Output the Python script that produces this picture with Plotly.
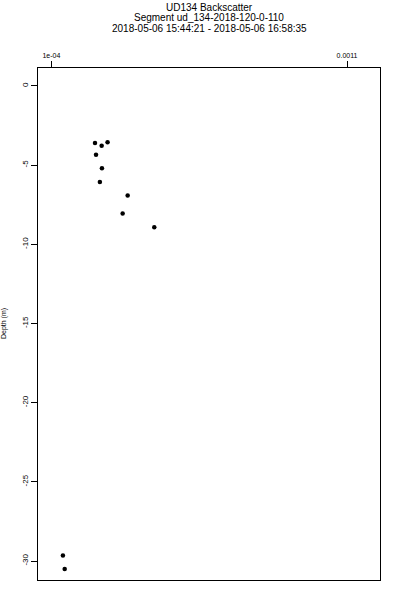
import plotly.graph_objects as go

backscatter = [0.0002475, 0.000270, 0.000290, 0.000251, 0.000271, 0.000264,
               0.000358, 0.000341, 0.000448, 0.000139, 0.000145]
depth = [-3.60, -3.78, -3.55, -4.35, -5.19, -6.06, -6.91, -8.05, -8.93, -29.65, -30.5]

x_tickvals = [0.0001, 0.0011]
x_ticktext = ["1e-04", "0.0011"]
y_tickvals = [0, -5, -10, -15, -20, -25, -30]
y_ticktext = ["0", "-5", "-10", "-15", "-20", "-25", "-30"]

title_lines = ["UD134 Backscatter", "Segment ud_134-2018-120-0-110",
               "2018-05-06 15:44:21 - 2018-05-06 16:58:35"]

FONT = "Liberation Sans, Arial, sans-serif"

fig = go.Figure()
fig.add_trace(go.Scatter(x=backscatter, y=depth, mode="markers",
                         marker=dict(color="black", size=4.5, symbol="circle"),
                         showlegend=False))

fig.update_layout(
    width=400, height=600,
    margin=dict(l=38, r=20, t=68, b=20),
    paper_bgcolor="white", plot_bgcolor="white",
    font=dict(family=FONT, color="black", size=8),
    xaxis=dict(side="top", range=[0.0000547, 0.0012116], tickvals=x_tickvals,
               ticktext=x_ticktext, ticks="outside", ticklen=6, tickcolor="black",
               tickwidth=1, showgrid=False, zeroline=False, showline=True,
               linecolor="black", linewidth=1, mirror=True,
               tickfont=dict(size=7, family=FONT)),
    yaxis=dict(range=[-31.2, 1.135], tickvals=y_tickvals, ticktext=y_ticktext,
               ticks="outside", ticklen=6, tickcolor="black", tickwidth=1,
               tickangle=-90, showgrid=False, zeroline=False, showline=True,
               linecolor="black", linewidth=1, mirror=True,
               tickfont=dict(size=8, family=FONT)),
)

for i, line in enumerate(title_lines):
    fig.add_annotation(text=line, xref="paper", yref="paper", x=0.5,
                       y=1, yshift=68 - 7 - 10.5 * i, showarrow=False,
                       font=dict(size=10, family=FONT), xanchor="center",
                       yanchor="middle")

fig.add_annotation(text="Depth (m)", xref="paper", yref="paper", x=0, xshift=-34,
                   y=0.5, textangle=-90, showarrow=False,
                   font=dict(size=7, family=FONT), xanchor="center", yanchor="middle")

fig.write_html("out.html", config={"displayModeBar": False},
               post_script="document.body.style.margin='0px';")
